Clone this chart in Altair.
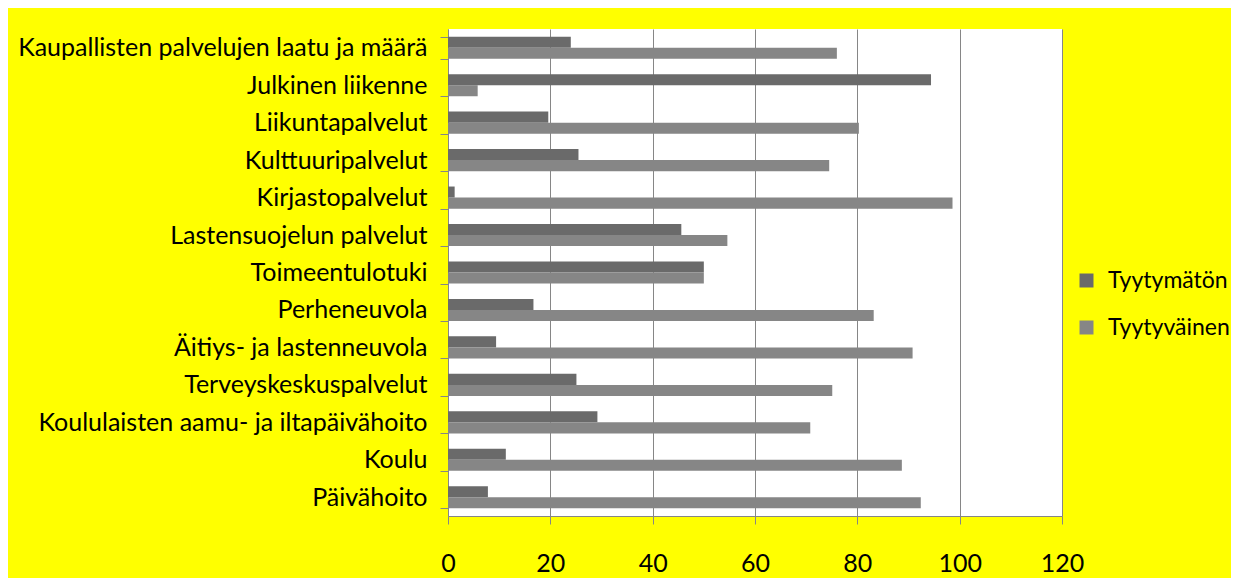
import altair as alt
import pandas as pd

categories = [
    "Kaupallisten palvelujen laatu ja määrä",
    "Julkinen liikenne",
    "Liikuntapalvelut",
    "Kulttuuripalvelut",
    "Kirjastopalvelut",
    "Lastensuojelun palvelut",
    "Toimeentulotuki",
    "Perheneuvola",
    "Äitiys- ja lastenneuvola",
    "Terveyskeskuspalvelut",
    "Koululaisten aamu- ja iltapäivähoito",
    "Koulu",
    "Päivähoito",
]
tyytymaton = [24.0, 94.4, 19.6, 25.5, 1.3, 45.6, 50.0, 16.7, 9.4, 25.1, 29.2, 11.3, 7.8]
tyytyvainen = [76.0, 5.8, 80.3, 74.5, 98.6, 54.6, 50.0, 83.2, 90.8, 75.1, 70.8, 88.7, 92.4]
series = ["Tyytymätön", "Tyytyväinen"]
colors = ["#6A6A6A", "#868686"]
x_ticks = [0, 20, 40, 60, 80, 100, 120]

rows = []
for c, a, b in zip(categories, tyytymaton, tyytyvainen):
    rows.append({"Palvelu": c, "Sarja": series[0], "Arvo": a})
    rows.append({"Palvelu": c, "Sarja": series[1], "Arvo": b})
df = pd.DataFrame(rows)

FONT = "Lato"
GRAY = "#868686"
FS = 25

chart = (
    alt.Chart(df)
    .mark_bar()
    .encode(
        y=alt.Y(
            "Palvelu:N",
            sort=categories,
            scale=alt.Scale(paddingInner=0.41, paddingOuter=0.205),
            axis=alt.Axis(
                title=None,
                labelFont=FONT,
                labelFontSize=FS,
                labelColor="black",
                tickSize=8,
                labelPadding=13,
                tickBand="extent",
                domainColor=GRAY,
                tickColor=GRAY,
                grid=False,
                labelLimit=0,
            ),
        ),
        yOffset=alt.YOffset(
            "Sarja:N", sort=series, scale=alt.Scale(paddingInner=0, paddingOuter=0)
        ),
        x=alt.X(
            "Arvo:Q",
            scale=alt.Scale(domain=[0, 120], nice=False),
            axis=alt.Axis(
                values=x_ticks,
                title=None,
                labelFont=FONT,
                labelFontSize=FS,
                labelColor="black",
                labelFlush=False,
                tickSize=8,
                labelPadding=27,
                domainColor=GRAY,
                tickColor=GRAY,
                gridColor=GRAY,
                gridOpacity=1,
                grid=True,
            ),
        ),
        color=alt.Color(
            "Sarja:N",
            sort=series,
            scale=alt.Scale(domain=series, range=colors),
            legend=alt.Legend(
                title=None,
                orient="none",
                legendX=627,
                legendY=240,
                padding=0,
                symbolType="square",
                symbolSize=196,
                symbolStrokeWidth=0,
                labelFont=FONT,
                labelFontSize=23,
                labelColor="black",
                labelOffset=10,
                rowPadding=23,
                labelLimit=300,
            ),
        ),
    )
    .properties(
        width=614,
        height=487,
        autosize=alt.AutoSizeParams(type="none"),
        padding={"left": 440, "top": 21, "right": 169, "bottom": 62},
        background="#FFFF00",
    )
    .configure_view(fill="white", strokeWidth=0)
)

chart.save("out.html", embed_options={"renderer": "svg", "actions": False})
